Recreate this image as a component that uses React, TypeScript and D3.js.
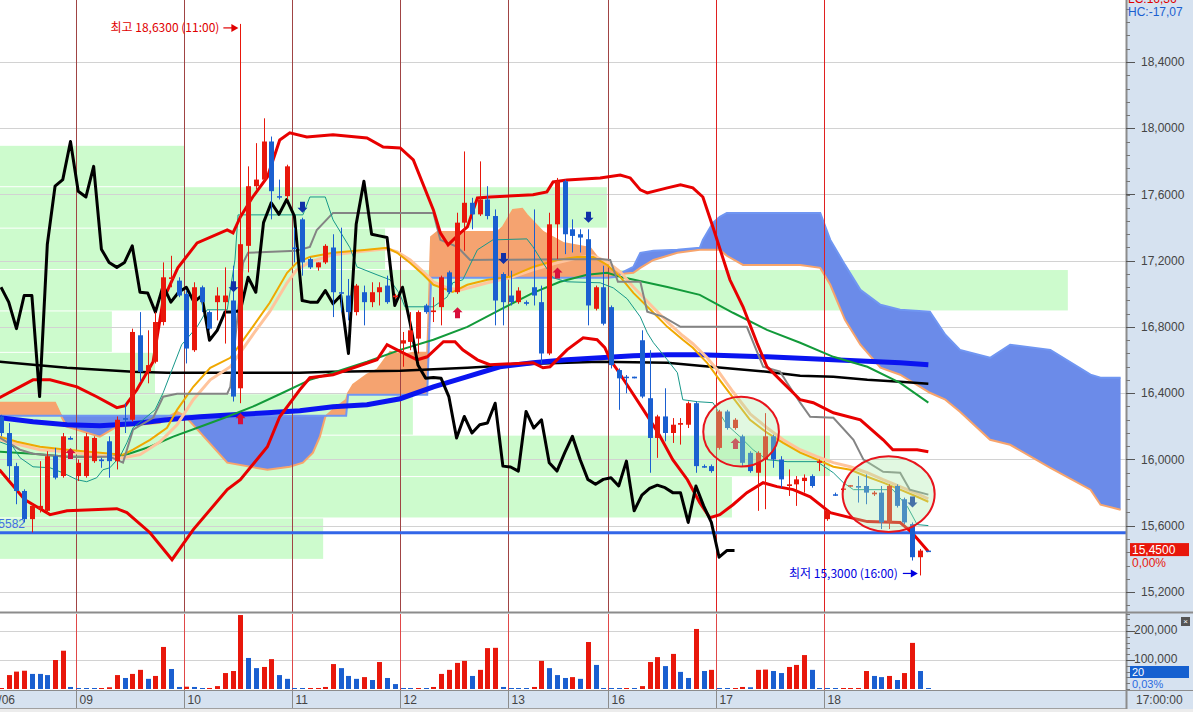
import React from 'react';
import * as d3 from 'd3';

// ---------------- data ----------------
const dayLabels = ['07/06', '09', '10', '11', '12', '13', '16', '17', '18'];
const dayFirstBar = [-10, 10, 24, 38, 52, 66, 79, 93, 107];

const opens = [
  16.26, 16.16, 15.96, 15.81, 15.64, 15.70, 15.69, 16.02, 15.90, 16.13,
  15.90, 15.90, 15.99, 16.00, 16.11, 15.99, 16.25, 16.24, 16.75, 16.53,
  16.59, 16.83, 17.09, 17.08, 17.00, 16.66, 17.04, 16.89, 16.95, 16.95,
  16.96, 16.43, 17.29, 17.65, 17.69, 17.92, 17.59, 17.59, 17.28, 17.45,
  17.21, 17.16, 17.19, 17.28, 17.01, 16.99, 16.89, 17.01, 16.95, 17.01,
  17.05, 16.98, 16.70, 16.71, 16.73, 16.93, 16.89, 16.92, 17.13, 17.01,
  17.43, 17.55, 17.48, 17.57, 17.47, 17.12, 16.99, 16.95, 16.95, 17.04,
  16.95, 16.64, 17.42, 17.68, 17.39, 17.36, 17.33, 16.91, 17.04, 16.92,
  16.54, 16.50, 16.50, 16.72, 16.37, 16.13, 16.26, 16.16, 16.21, 16.21,
  16.34, 15.96, 15.96, 16.07, 16.29, 16.19, 16.14, 16.04, 15.92, 16.00,
  16.14, 16.00, 15.84, 15.85, 15.87, 15.90, 15.98, 15.64, 15.79, 15.82,
  15.84, 15.84, 15.84, 15.79, 15.80, 15.62, 15.84, 15.76, 15.61, 15.41,
  15.45,
];
const highs = [
  16.27, 16.22, 15.98, 15.82, 15.73, 15.99, 16.05, 16.07, 16.16, 16.14,
  16.00, 16.16, 16.14, 16.01, 16.14, 16.26, 16.34, 16.79, 16.89, 16.78,
  16.89, 17.19, 17.23, 17.10, 17.02, 17.07, 17.05, 16.90, 17.04, 17.16,
  17.17, 18.63, 17.77, 17.91, 18.06, 17.95, 17.69, 17.78, 17.40, 17.46,
  17.22, 17.19, 17.30, 17.36, 17.40, 17.09, 17.06, 17.05, 17.07, 17.07,
  17.11, 17.00, 16.77, 16.89, 16.90, 16.94, 16.98, 17.11, 17.14, 17.49,
  17.86, 17.58, 17.80, 17.65, 17.51, 17.13, 17.14, 17.04, 16.96, 17.51,
  17.05, 17.49, 17.70, 17.69, 17.45, 17.39, 17.39, 17.05, 17.17, 16.93,
  16.55, 16.51, 16.50, 16.78, 16.66, 16.27, 16.43, 16.25, 16.25, 16.35,
  16.35, 15.97, 15.97, 16.30, 16.30, 16.25, 16.15, 16.05, 16.05, 16.28,
  16.15, 16.02, 15.94, 15.90, 15.91, 15.91, 16.00, 15.70, 15.80, 15.83,
  15.845, 15.90, 15.91, 15.81, 15.84, 15.85, 15.85, 15.77, 15.62, 15.46,
  15.45,
];
const lows = [
  16.14, 15.88, 15.73, 15.62, 15.56, 15.68, 15.67, 15.88, 15.89, 16.12,
  15.87, 15.89, 15.98, 15.95, 15.89, 15.94, 16.16, 16.23, 16.47, 16.46,
  16.58, 16.81, 17.04, 16.98, 16.58, 16.65, 16.89, 16.78, 16.84, 16.70,
  16.35, 16.34, 17.13, 17.63, 17.68, 17.45, 17.57, 17.57, 17.19, 17.11,
  17.15, 17.14, 17.18, 16.86, 16.89, 16.84, 16.87, 16.81, 16.92, 16.93,
  16.94, 16.97, 16.56, 16.66, 16.64, 16.88, 16.83, 16.81, 17.00, 17.00,
  17.26, 17.39, 17.47, 17.45, 16.81, 16.81, 16.93, 16.94, 16.93, 16.93,
  16.58, 16.63, 17.21, 17.24, 17.25, 17.25, 16.81, 16.90, 16.81, 16.55,
  16.30, 16.40, 16.49, 16.37, 15.92, 16.01, 16.11, 16.10, 16.09, 16.19,
  15.92, 15.95, 15.92, 16.06, 16.18, 16.18, 15.96, 15.92, 15.69, 15.70,
  15.95, 15.83, 15.78, 15.72, 15.80, 15.83, 15.93, 15.63, 15.78, 15.81,
  15.835, 15.74, 15.73, 15.78, 15.58, 15.58, 15.71, 15.61, 15.39, 15.30,
  15.45,
];
const closes = [
  16.16, 15.96, 15.81, 15.64, 15.72, 15.72, 16.02, 15.89, 16.14, 16.12,
  15.98, 16.14, 16.13, 15.99, 15.99, 16.24, 16.24, 16.77, 16.53, 16.57,
  16.83, 17.10, 17.10, 16.99, 16.67, 17.04, 16.95, 16.79, 16.99, 16.99,
  16.38, 17.30, 17.65, 17.69, 17.92, 17.62, 17.585, 17.77, 17.27, 17.19,
  17.16, 17.19, 17.29, 17.01, 17.005, 16.89, 17.05, 16.95, 17.01, 17.04,
  16.95, 16.99, 16.72, 16.78, 16.89, 16.89, 16.90, 17.10, 17.01, 17.43,
  17.55, 17.48, 17.57, 17.47, 16.96, 16.95, 16.95, 17.02, 16.94, 16.99,
  16.64, 17.42, 17.68, 17.36, 17.35, 17.34, 16.93, 17.04, 16.82, 16.57,
  16.49, 16.495, 16.49, 16.38, 16.13, 16.26, 16.16, 16.21, 16.22, 16.34,
  15.96, 15.955, 15.93, 16.29, 16.19, 16.24, 15.98, 15.93, 16.04, 16.14,
  16.00, 15.88, 15.85, 15.88, 15.89, 15.84, 15.99, 15.69, 15.785, 15.825,
  15.845, 15.83, 15.80, 15.80, 15.62, 15.84, 15.72, 15.62, 15.41, 15.45,
  15.45,
];
// volume in thousands
const volumes = [
  3, 48, 60, 63, 52, 52, 48, 100, 132, 7,
  3, 2.5, 2, 2.5, 6, 48, 38, 52, 66, 35,
  45, 145, 69, 7, 8, 7, 3, 3.5, 10, 55,
  62, 255, 107, 72, 76, 103, 48, 35, 3, 2.5,
  3, 3.5, 7, 86, 72, 45, 35, 41, 31, 93,
  38, 17, 3, 2.5, 3, 2.5, 7, 52, 66, 90,
  97, 45, 66, 141, 142, 7, 3, 2.5, 2, 7,
  97, 72, 48, 38, 41, 35, 162, 83, 3, 2.5,
  2, 2.5, 2, 10, 93, 110, 79, 121, 59, 38,
  207, 62, 66, 3, 2.5, 3, 7, 6, 66, 67,
  62, 55, 76, 83, 117, 66, 3, 2.5, 2, 2.5,
  3, 3.5, 62, 45, 41, 45, 31, 55, 159, 62,
  3,
];

const priceTicks = [18.4, 18.0, 17.6, 17.2, 16.8, 16.4, 16.0, 15.6, 15.2];
const volumeTicks = [200, 100];

// overlays: [bar index, price]
const bbUpper: [number, number][] = [
  [-0.2, 16.373], [4.15, 16.481], [6.35, 16.481], [9.84, 16.439], [12.4, 16.379], [15.0, 16.313], [16.1, 16.325],
  [17.6, 16.421], [19.7, 16.59], [21.0, 16.964], [22.9, 17.157], [25.4, 17.308], [29.3, 17.386], [30.05, 17.368],
  [31.0, 17.465], [32.6, 17.585], [34.5, 17.706], [36.1, 17.929], [37.4, 17.972], [39.6, 17.947], [43.0, 17.96],
  [47.4, 17.941], [49.5, 17.887], [51.7, 17.881], [53.4, 17.809], [56.0, 17.507], [56.9, 17.368], [57.9, 17.296],
  [59.5, 17.368], [60.4, 17.404], [61.7, 17.579], [63.3, 17.585], [68.9, 17.598], [70.7, 17.616], [71.5, 17.676],
  [73.3, 17.688], [77.6, 17.7], [80.2, 17.718], [81.5, 17.7], [82.8, 17.628], [83.7, 17.61], [86.3, 17.64],
  [88.0, 17.658], [89.6, 17.64], [90.9, 17.585], [92.2, 17.404], [94.4, 17.085], [96.1, 16.922], [97.9, 16.705],
  [99.2, 16.56], [101.3, 16.463], [103.5, 16.361], [105.2, 16.343], [107.8, 16.282], [111.3, 16.24],
  [114.25, 16.119], [115.5, 16.059], [118.65, 16.059], [120.1, 16.047],
];
const bbLower: [number, number][] = [
  [-0.2, 15.938], [3.1, 15.757], [6.35, 15.667], [8.55, 15.691], [15.0, 15.703], [16.3, 15.679], [19.3, 15.558],
  [22.15, 15.395], [24.9, 15.577], [29.3, 15.818], [31.0, 15.878], [34.5, 16.077], [36.1, 16.258], [38.7, 16.421],
  [40.0, 16.494], [43.0, 16.512], [48.7, 16.602], [50.0, 16.693], [51.3, 16.662], [53.9, 16.602], [55.2, 16.62],
  [57.3, 16.711], [58.8, 16.711], [59.8, 16.662], [61.7, 16.602], [63.3, 16.572], [68.9, 16.584], [70.2, 16.554],
  [71.1, 16.56], [73.3, 16.662], [75.4, 16.735], [77.2, 16.723], [78.2, 16.675], [78.9, 16.602], [79.8, 16.542],
  [81.5, 16.421], [83.2, 16.3], [85.1, 16.162], [87.0, 15.999], [88.9, 15.878], [90.5, 15.739], [91.8, 15.649],
  [93.1, 15.667], [94.8, 15.727], [96.6, 15.8], [98.7, 15.86], [100.5, 15.836], [102.6, 15.818], [104.8, 15.775],
  [107.4, 15.679], [110.0, 15.649], [112.2, 15.625], [116.45, 15.619], [118.0, 15.558], [120.1, 15.444],
];
const maOrange: [number, number][] = [
  [-0.2, 16.138], [2.07, 16.107], [5.05, 16.077], [8.55, 16.059], [12.8, 16.041], [15.8, 16.029], [17.1, 16.059],
  [19.3, 16.119], [21.5, 16.192], [22.8, 16.3], [24.9, 16.439], [27.1, 16.554], [29.7, 16.614], [32.6, 16.801],
  [34.8, 16.946], [37.05, 17.127], [38.3, 17.187], [40.0, 17.223], [43.0, 17.248], [47.4, 17.266], [50.0, 17.278],
  [51.3, 17.248], [53.0, 17.187], [54.7, 17.115], [56.0, 17.055], [57.8, 17.024], [58.5, 17.012], [60.4, 17.055],
  [63.0, 17.085], [65.9, 17.103], [68.9, 17.163], [72.0, 17.205], [74.6, 17.223], [76.7, 17.223], [78.5, 17.175],
  [80.2, 17.103], [81.9, 17.006], [84.5, 16.886], [86.3, 16.801], [88.3, 16.723], [89.6, 16.675], [91.45, 16.584],
  [92.75, 16.5], [94.8, 16.373], [97.0, 16.24], [99.2, 16.162], [101.3, 16.101], [103.5, 16.041], [105.7, 15.999],
  [107.8, 15.956], [110.0, 15.938], [112.2, 15.896], [114.25, 15.86], [116.45, 15.818], [118.65, 15.775],
  [120.1, 15.745],
];
const maPeach: [number, number][] = [
  [-0.2, 16.119], [5.05, 16.059], [8.55, 16.047], [12.8, 16.023], [15.8, 16.011], [18.0, 16.029], [20.6, 16.107],
  [22.8, 16.21], [24.9, 16.361], [27.1, 16.481], [29.7, 16.56], [32.6, 16.753], [34.8, 16.892], [37.05, 17.067],
  [38.3, 17.145], [40.0, 17.193], [43.0, 17.236], [47.4, 17.26], [50.0, 17.272], [51.3, 17.254], [53.0, 17.205],
  [54.7, 17.133], [56.0, 17.073], [57.8, 17.036], [59.5, 17.024], [63.0, 17.067], [65.9, 17.097], [68.9, 17.145],
  [72.0, 17.187], [74.6, 17.217], [76.7, 17.23], [78.5, 17.193], [80.2, 17.133], [81.9, 17.042], [84.5, 16.916],
  [86.3, 16.831], [88.3, 16.747], [89.6, 16.699], [91.45, 16.614], [92.75, 16.542], [94.8, 16.409], [97.0, 16.276],
  [99.2, 16.192], [101.3, 16.119], [103.5, 16.059], [105.7, 16.017], [107.8, 15.981], [110.0, 15.956],
  [112.2, 15.92], [114.25, 15.878], [116.45, 15.836], [118.65, 15.794], [120.1, 15.763],
];
const maGreen: [number, number][] = [
  [-0.2, 16.047], [4.15, 16.035], [8.55, 16.017], [12.8, 16.017], [15.8, 16.023], [19.3, 16.077], [22.3, 16.138],
  [25.8, 16.198], [29.3, 16.258], [32.6, 16.319], [36.5, 16.403], [40.0, 16.481], [43.0, 16.524], [47.4, 16.59],
  [51.7, 16.662], [56.0, 16.723], [60.4, 16.801], [64.6, 16.904], [68.9, 17.006], [72.4, 17.073], [75.9, 17.115],
  [78.5, 17.127], [80.2, 17.103], [86.3, 17.042], [90.5, 16.994], [94.8, 16.886], [99.2, 16.783], [103.5, 16.705],
  [107.8, 16.62], [112.2, 16.56], [116.45, 16.463], [120.1, 16.343],
];
const maBlue: [number, number][] = [
  [-0.2, 16.252], [4.15, 16.228], [8.55, 16.21], [12.8, 16.204], [17.1, 16.216], [21.5, 16.24], [25.8, 16.258],
  [30.05, 16.27], [34.5, 16.282], [38.7, 16.294], [43.0, 16.319], [47.4, 16.331], [51.7, 16.367], [56.0, 16.439],
  [60.4, 16.5], [64.6, 16.56], [68.9, 16.584], [73.3, 16.602], [77.6, 16.614], [81.9, 16.626], [86.3, 16.632],
  [90.5, 16.632], [99.2, 16.62], [107.8, 16.602], [116.45, 16.584], [120.1, 16.572],
];
const maBlack: [number, number][] = [
  [-0.2, 16.59], [4.15, 16.572], [8.55, 16.554], [12.8, 16.542], [17.1, 16.53], [21.5, 16.524], [30.05, 16.524],
  [38.7, 16.524], [43.0, 16.53], [51.7, 16.536], [60.4, 16.554], [68.9, 16.578], [77.6, 16.59], [86.3, 16.584],
  [90.5, 16.566], [94.8, 16.548], [99.2, 16.53], [103.5, 16.506], [107.8, 16.5], [112.2, 16.481], [116.45, 16.469],
  [120.1, 16.457],
];
const tenkan: [number, number][] = [
  [-0.2, 16.107], [1.55, 16.077], [2.46, 16.011], [4.15, 15.956], [6.35, 15.95], [8.0, 15.92], [9.84, 15.878],
  [11.1, 15.866], [12.4, 15.89], [13.2, 15.938], [14.1, 15.95], [15.4, 16.017], [16.3, 16.101], [17.1, 16.192],
  [18.4, 16.24], [19.95, 16.3], [21.0, 16.403], [22.15, 16.542], [23.4, 16.693], [25.4, 16.801], [26.7, 16.904],
  [29.3, 16.904], [30.3, 17.205], [30.7, 17.477], [39.1, 17.477], [40.0, 17.585], [42.0, 17.585], [43.0, 17.447],
  [45.2, 17.278], [46.1, 17.163], [48.7, 17.115], [50.4, 17.085], [51.7, 16.994], [52.3, 16.922], [56.0, 16.922],
  [57.8, 16.982], [58.5, 17.067], [59.8, 17.085], [61.7, 17.266], [63.7, 17.326], [68.1, 17.332], [68.9, 17.284],
  [70.2, 17.187], [71.5, 17.097], [73.3, 17.073], [77.6, 17.067], [79.3, 17.036], [81.1, 16.97], [82.8, 16.861],
  [83.7, 16.765], [84.5, 16.705], [86.3, 16.602], [87.6, 16.524], [88.3, 16.361], [90.2, 16.349], [92.2, 16.343],
  [94.0, 16.21], [95.7, 16.138], [97.4, 16.059], [99.2, 15.999], [101.8, 15.987], [105.7, 15.987], [107.8, 15.92],
  [109.1, 15.86], [110.4, 15.818], [115.5, 15.818], [117.4, 15.715], [118.65, 15.607], [120.1, 15.601],
];
const kijun: [number, number][] = [
  [-0.2, 16.132], [2.46, 16.059], [4.15, 16.035], [8.55, 16.017], [14.1, 16.017], [15.8, 15.981], [17.1, 16.18],
  [19.7, 16.252], [21.0, 16.379], [22.8, 16.397], [29.3, 16.397], [29.7, 16.439], [31.35, 17.187], [32.0, 17.248],
  [38.3, 17.26], [40.0, 17.284], [40.9, 17.386], [43.0, 17.489], [56.0, 17.489], [56.9, 17.326], [59.1, 17.284],
  [60.75, 17.205], [77.6, 17.211], [78.9, 17.205], [79.9, 17.073], [82.8, 17.073], [83.7, 16.892], [85.8, 16.861],
  [88.0, 16.801], [96.6, 16.801], [98.7, 16.56], [100.9, 16.53], [101.8, 16.463], [103.5, 16.343], [104.8, 16.258],
  [107.8, 16.252], [110.4, 16.119], [111.7, 15.999], [114.25, 15.926], [116.45, 15.92], [117.7, 15.818],
  [120.1, 15.788],
];
const cloudIdx = [
  -0.2, 7.0, 7.9, 8.55, 12.8, 15.0, 20.6, 21.9, 22.8, 23.8, 25.8, 29.3, 34.5, 37.4, 39.1, 40.4, 41.3, 42.0, 43.0,
  44.7, 44.95, 45.6, 47.4, 48.7, 50.4, 52.1, 53.4, 55.2, 55.7, 56.5, 64.25, 65.0, 66.3, 67.5, 68.1, 70.2, 72.8,
  76.3, 77.2, 78.5, 79.8, 80.6, 81.9, 82.8, 84.5, 87.6, 90.5, 90.9, 92.2, 93.1, 94.0, 96.1, 103.5, 106.1, 107.4,
  109.3, 111.3, 113.9, 116.45, 120.3, 122.3, 124.2, 128.1, 130.7, 135.9, 141.1, 142.4, 145.0,
];
const spanA = [
  16.343, 16.343, 16.252, 16.198, 16.138, 16.198, 16.222, 16.264, 16.288, 16.264, 16.162, 15.981, 15.938, 15.956,
  15.981, 16.041, 16.138, 16.258, 16.3, 16.361, 16.4, 16.451, 16.512, 16.542, 16.65, 16.632, 16.644, 16.644,
  17.344, 17.374, 17.374, 17.404, 17.507, 17.513, 17.477, 17.374, 17.308, 17.278, 17.223, 17.163, 17.133, 17.121,
  17.127, 17.157, 17.205, 17.248, 17.266, 17.266, 17.266, 17.266, 17.23, 17.175, 17.175, 17.157, 17.055, 16.843,
  16.693, 16.554, 16.512, 16.403, 16.361, 16.288, 16.119, 16.089, 15.95, 15.818, 15.727, 15.697,
];
const spanB = [
  16.264, 16.264, 16.264, 16.264, 16.264, 16.264, 16.264, 16.264, 16.264, 16.264, 16.264, 16.264, 16.264, 16.264,
  16.264, 16.264, 16.264, 16.264, 16.264, 16.264, 16.391, 16.391, 16.391, 16.391, 16.391, 16.391, 16.391, 16.391,
  17.097, 17.097, 17.097, 17.097, 17.097, 17.097, 17.097, 17.097, 17.097, 17.097, 17.097, 17.097, 17.103, 17.133,
  17.163, 17.248, 17.26, 17.266, 17.278, 17.326, 17.428, 17.465, 17.489, 17.489, 17.489, 17.489, 17.326, 17.175,
  17.024, 16.934, 16.904, 16.892, 16.753, 16.662, 16.614, 16.693, 16.662, 16.512, 16.494, 16.494,
];

// price-by-volume profile (thousands)
const profileLow = [15.4, 15.65, 15.9, 16.15, 16.4, 16.65, 16.9, 17.15, 17.4, 17.65];
const profileVol = [861, 1950, 2211, 1100, 413, 298, 2845, 1026, 1617, 493];

const supportLevel = 15.5582;
const buySignals: [number, number][] = [[9, 16.07], [31, 16.28], [59, 16.92], [72, 17.16], [95, 16.13]];
const sellSignals: [number, number][] = [[30, 17.01], [39, 17.49], [65, 17.18], [76, 17.43], [118, 15.71]];
const circles = [
  { idx: 95.85, price: 16.168, rIdx: 4.9, rPrice: 0.211 },
  { idx: 114.96, price: 15.791, rIdx: 5.96, rPrice: 0.229 },
];
const highMark = { idx: 31, price: 18.63, text: '최고 18,6300 (11:00)' };
const lowMark = { idx: 119, price: 15.3, text: '최저 15,3000 (16:00)' };
const lastPrice = 15.45;

// ---------------- chart ----------------
const RED = '#e8170b';
const BLUE = '#1a5fd0';
const fmtP = (v: number) => v.toFixed(4).replace('.', ',');
const fmtV = (v: number) => d3.format(',')(v * 1000);

export default function App() {
  const PR = 1126; // plot right
  const x = d3.scaleLinear().domain([0, 145.7]).range([1, PR]);
  const y = d3.scaleLinear().domain([15.2, 18.4]).range([592, 62]);
  const yv = d3.scaleLinear().domain([0, 200]).range([689, 631]);
  const px = d3.scaleLinear().domain([0, 3000]).range([0, PR]);
  const line = d3.line<[number, number]>().x(d => x(d[0])).y(d => y(d[1]));

  const cloud = cloudIdx.map((i, k) => ({ i, a: spanA[k], b: spanB[k] }));
  const orangeArea = d3.area<{ i: number; a: number; b: number }>()
    .x(d => x(d.i)).y0(d => y(d.b)).y1(d => y(Math.max(d.a, d.b)))(cloud) || '';
  const blueArea = d3.area<{ i: number; a: number; b: number }>()
    .x(d => x(d.i)).y0(d => y(d.a)).y1(d => y(Math.max(d.a, d.b)))(cloud) || '';
  const spanALine = line(cloud.map(d => [d.i, d.a] as [number, number])) || '';
  const spanBLine = line(cloud.map(d => [d.i, d.b] as [number, number])) || '';

  const chikou: [number, number][] = closes.slice(25).map((c, k) => [k, c]);

  const dayX = dayFirstBar.map(b => Math.round(x(b - 0.35)) + 0.5);
  const minorP = d3.range(-2, 45).map(k => 15.2 + k * 0.08);
  const minorV = d3.range(0, 14).map(k => k * 20);

  const upArrow = (cx: number, ty: number) =>
    `M${cx},${ty} L${cx + 5},${ty + 5} L${cx + 2.5},${ty + 5} L${cx + 2.5},${ty + 11} L${cx - 2.5},${ty + 11} L${cx - 2.5},${ty + 5} L${cx - 5},${ty + 5} Z`;
  const downArrow = (cx: number, by: number) =>
    `M${cx},${by} L${cx + 5},${by - 5} L${cx + 2.5},${by - 5} L${cx + 2.5},${by - 11} L${cx - 2.5},${by - 11} L${cx - 2.5},${by - 5} L${cx - 5},${by - 5} Z`;

  const hiTip = x(highMark.idx) - 2;
  const hiY = y(highMark.price) + 4;
  const loTip = x(lowMark.idx) - 2;
  const loY = y(lowMark.price) - 2;

  const font = "'Liberation Sans', Arial, sans-serif";
  const kfont = "'Noto Sans CJK KR', 'Liberation Sans', sans-serif";

  return (
    <div style={{ position: 'fixed', left: 0, top: 0 }}>
      <svg width={1193} height={712} style={{ display: 'block', background: '#fff' }} fontFamily={font}>
        <defs>
          <clipPath id="plotClip"><rect x={0} y={0} width={PR} height={612} /></clipPath>
          <clipPath id="volClip"><rect x={0} y={614} width={PR} height={76} /></clipPath>
        </defs>

        {/* ---------- price panel ---------- */}
        <g clipPath="url(#plotClip)">
          {profileLow.map((lo, k) => (
            <rect key={'pf' + k} x={0} y={y(lo + 0.25) + 1} width={px(profileVol[k])}
              height={y(lo) - y(lo + 0.25) - 1} fill="#cdfbcd" />
          ))}
          {priceTicks.map(p => (
            <line key={'g' + p} x1={0} x2={PR} y1={Math.round(y(p)) + 0.5} y2={Math.round(y(p)) + 0.5} stroke="#d2d2d2" />
          ))}
          <path d={orangeArea} fill="#f5a370" />
          <path d={blueArea} fill="#6b8be9" />
          <path d={spanALine} fill="none" stroke="#f7a46c" strokeWidth={2} />
          <path d={spanBLine} fill="none" stroke="#7096f2" strokeWidth={2} />
          {dayX.slice(1).map((dx, k) => (
            <line key={'d' + k} x1={dx} x2={dx} y1={0} y2={612} stroke={k >= 6 ? '#e02020' : '#a04444'} strokeWidth={1} />
          ))}
          <line x1={0} x2={PR} y1={y(supportLevel)} y2={y(supportLevel)} stroke="#3366e8" strokeWidth={3} />
          <text x={25} y={y(supportLevel) - 9} textAnchor="end" fontSize={12} fill="#4070e0" dy="0.35em">{fmtP(supportLevel)}</text>

          <path d={line(maBlack) || ''} fill="none" stroke="#000" strokeWidth={2.5} />
          <path d={line(maBlue) || ''} fill="none" stroke="#0a14f0" strokeWidth={5} />
          <path d={line(maGreen) || ''} fill="none" stroke="#129a3a" strokeWidth={2} />
          <path d={line(maPeach) || ''} fill="none" stroke="#ffc49c" strokeWidth={3} />
          <path d={line(maOrange) || ''} fill="none" stroke="#f0a800" strokeWidth={2} />
          <path d={line(kijun) || ''} fill="none" stroke="#848484" strokeWidth={2} />
          <path d={line(tenkan) || ''} fill="none" stroke="#17988a" strokeWidth={1} />
          <path d={line(bbUpper) || ''} fill="none" stroke="#e80000" strokeWidth={3} />
          <path d={line(bbLower) || ''} fill="none" stroke="#e80000" strokeWidth={3} />
          <path d={line(chikou) || ''} fill="none" stroke="#000" strokeWidth={3} strokeLinejoin="round" />

          {opens.map((o, i) => {
            const c = closes[i];
            const up = c > o;
            const col = up ? RED : BLUE;
            const cx = Math.round(x(i));
            const top = y(Math.max(o, c));
            const h = Math.max(1.5, Math.abs(y(o) - y(c)));
            return (
              <g key={'c' + i}>
                <rect x={cx} y={y(highs[i])} width={1} height={y(lows[i]) - y(highs[i])} fill={col} />
                <rect x={cx - 2} y={top} width={5} height={h} fill={col} />
              </g>
            );
          })}

          {buySignals.map(([i, p], k) => (
            <path key={'b' + k} d={upArrow(Math.round(x(i)) + 0.5, y(p))} fill="#d8103c" />
          ))}
          {sellSignals.map(([i, p], k) => (
            <path key={'s' + k} d={downArrow(Math.round(x(i)) + 0.5, y(p))} fill="#1030a8" />
          ))}

          {circles.map((c, k) => (
            <ellipse key={'e' + k} cx={x(c.idx)} cy={y(c.price)} rx={x(c.rIdx) - x(0)} ry={y(0) - y(c.rPrice)}
              fill="rgba(170,235,170,0.35)" stroke="#e8141c" strokeWidth={2} />
          ))}

          <text x={hiTip - 19} y={hiY} textAnchor="end" fontSize={12} fill="#e00000" fontFamily={kfont} dy="0.35em">{highMark.text}</text>
          <line x1={hiTip - 15} x2={hiTip - 6} y1={hiY} y2={hiY} stroke="#e00000" strokeWidth={1.2} />
          <path d={`M${hiTip},${hiY} L${hiTip - 7},${hiY - 4} L${hiTip - 7},${hiY + 4} Z`} fill="#e00000" />

          <text x={loTip - 20} y={loY} textAnchor="end" fontSize={12} fill="#0000e0" fontFamily={kfont} dy="0.35em">{lowMark.text}</text>
          <line x1={loTip - 15} x2={loTip - 6} y1={loY} y2={loY} stroke="#0000e0" strokeWidth={1.2} />
          <path d={`M${loTip},${loY} L${loTip - 7},${loY - 4} L${loTip - 7},${loY + 4} Z`} fill="#0000e0" />
        </g>

        {/* ---------- volume panel ---------- */}
        <g clipPath="url(#volClip)">
          {volumeTicks.map(v => (
            <line key={'vg' + v} x1={0} x2={PR} y1={Math.round(yv(v)) + 0.5} y2={Math.round(yv(v)) + 0.5} stroke="#d2d2d2" />
          ))}
          {dayX.slice(1).map((dx, k) => (
            <line key={'vd' + k} x1={dx} x2={dx} y1={613} y2={690} stroke="#e04848" strokeWidth={1} />
          ))}
          {volumes.map((v, i) => {
            const up = i === 0 ? true : v > volumes[i - 1];
            const top = yv(v);
            return (
              <rect key={'v' + i} x={Math.round(x(i)) - 2} y={Math.min(top, yv(0) - 1)} width={5}
                height={Math.max(1, yv(0) - top)} fill={up ? RED : BLUE} />
            );
          })}
        </g>

        {/* separators */}
        <line x1={0} x2={1193} y1={612.5} y2={612.5} stroke="#8c8c8c" strokeWidth={2} />

        {/* ---------- x axis strip ---------- */}
        <rect x={0} y={690} width={1193} height={19} fill="#d6e2f0" />
        <line x1={0} x2={1193} y1={690.5} y2={690.5} stroke="#8c8c8c" />
        <line x1={0} x2={1193} y1={708.5} y2={708.5} stroke="#a0a0a0" />
        <rect x={0} y={709} width={1193} height={3} fill="#ececec" />
        {dayX.map((dx, k) => (
          <g key={'xl' + k}>
            {k > 0 && <line x1={dx} x2={dx} y1={690} y2={708} stroke="#8c8c8c" />}
            <text x={k === 0 ? 15 : dx + 3} y={700} textAnchor={k === 0 ? 'end' : 'start'} fontSize={12}
              fill="#444" dy="0.35em">{dayLabels[k]}</text>
          </g>
        ))}

        {/* ---------- right axis ---------- */}
        <rect x={PR} y={0} width={1193 - PR} height={709} fill="#d6e2f0" />
        <line x1={PR + 0.5} x2={PR + 0.5} y1={0} y2={709} stroke="#8c8c8c" strokeWidth={2} />
        <line x1={PR} x2={1193} y1={612.5} y2={612.5} stroke="#8c8c8c" strokeWidth={2} />
        <line x1={PR} x2={1193} y1={690.5} y2={690.5} stroke="#8c8c8c" />
        {minorP.map((p, k) => (
          <line key={'mp' + k} x1={PR} x2={PR + 4} y1={Math.round(y(p)) + 0.5} y2={Math.round(y(p)) + 0.5} stroke="#777" />
        ))}
        {priceTicks.map(p => (
          <g key={'pt' + p}>
            <line x1={PR} x2={PR + 9} y1={Math.round(y(p)) + 0.5} y2={Math.round(y(p)) + 0.5} stroke="#555" />
            <text x={PR + 15} y={y(p)} fontSize={12} fill="#444" dy="0.35em">{fmtP(p)}</text>
          </g>
        ))}
        {minorV.map((v, k) => (
          <line key={'mv' + k} x1={PR} x2={PR + 4} y1={Math.round(yv(v)) + 0.5} y2={Math.round(yv(v)) + 0.5} stroke="#777" />
        ))}
        {volumeTicks.map(v => (
          <g key={'vt' + v}>
            <line x1={PR} x2={PR + 9} y1={Math.round(yv(v)) + 0.5} y2={Math.round(yv(v)) + 0.5} stroke="#555" />
            <text x={PR + 8} y={yv(v) - 1} fontSize={12} fill="#444" dy="0.35em">{fmtV(v)}</text>
          </g>
        ))}
        <rect x={PR + 4} y={y(lastPrice) - 7.5} width={59} height={13} fill="#e8170b" />
        <text x={PR + 6} y={y(lastPrice) - 1} fontSize={12} fill="#fff" dy="0.35em">{fmtP(lastPrice)}</text>
        <text x={PR + 6} y={y(lastPrice) + 12} fontSize={12} fill="#e8170b" dy="0.35em">0,00%</text>
        <rect x={PR + 4} y={666} width={59} height={12} fill="#1560d0" />
        <text x={PR + 6} y={672} fontSize={11} fill="#fff" dy="0.35em">20</text>
        <text x={PR + 6} y={684.5} fontSize={11} fill="#2a6ae0" dy="0.35em">0,03%</text>
        <rect x={1181} y={617} width={9} height={9} fill="#555" />
        <text x={1185.5} y={621.5} fontSize={8} fill="#fff" textAnchor="middle" dy="0.35em">×</text>
        <text x={PR + 2} y={-1} fontSize={12} fill="#e00000" dy="0.35em">LC:16,36</text>
        <text x={PR + 2} y={12} fontSize={12} fill="#1a5fd0" dy="0.35em">HC:-17,07</text>
        <text x={PR + 10} y={700} fontSize={12} fill="#444" dy="0.35em">17:00:00</text>
      </svg>
    </div>
  );
}
